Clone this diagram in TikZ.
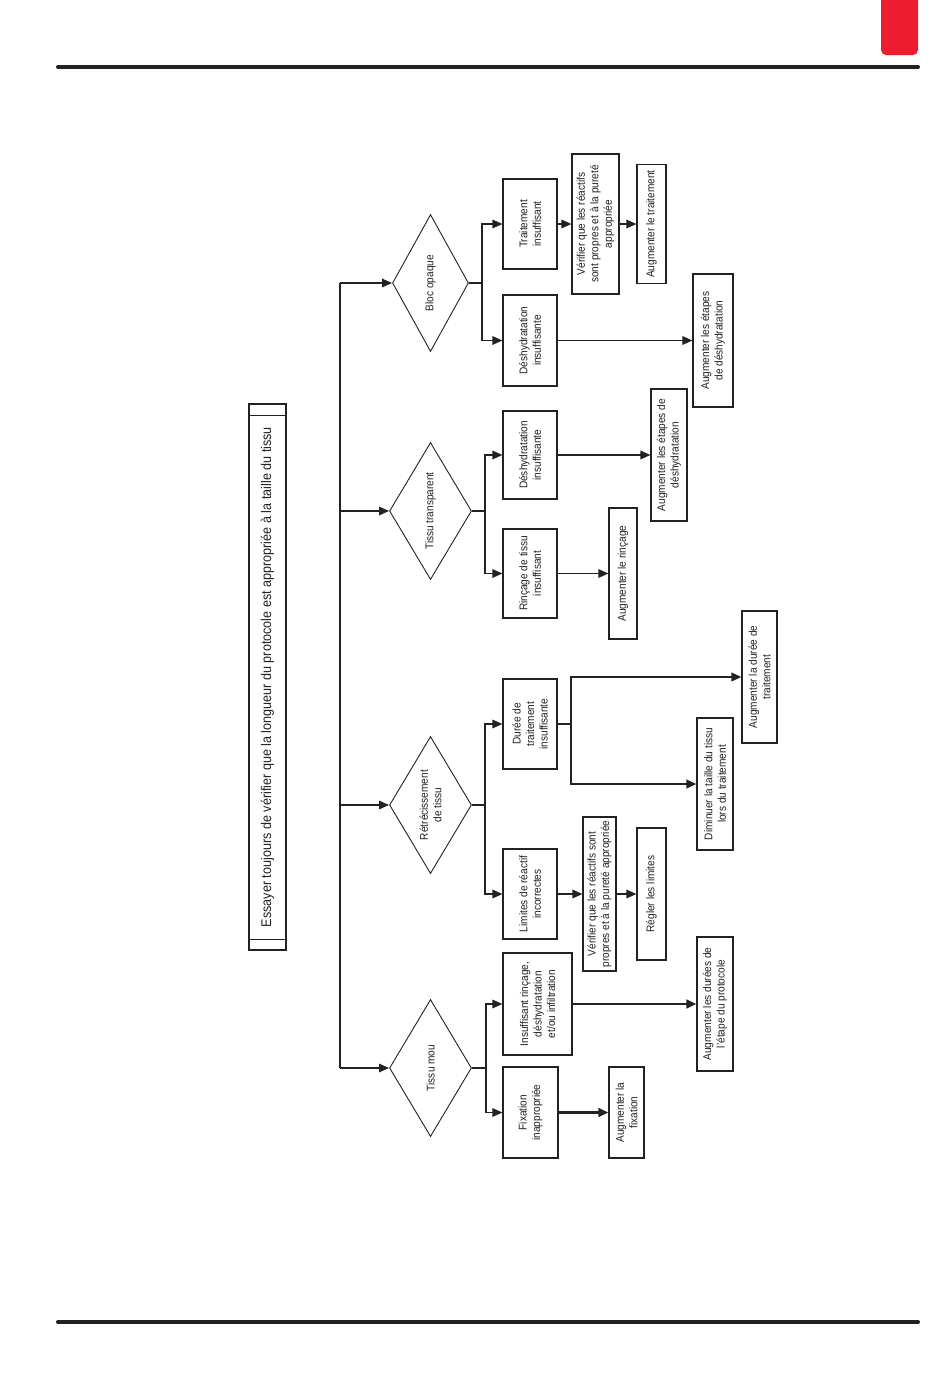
\documentclass[tikz,border=0pt]{standalone}
\usepackage{fontspec}
\setmainfont{Liberation Sans}[FakeStretch=0.9]
\usetikzlibrary{shapes.geometric,arrows.meta}
\definecolor{tabred}{HTML}{ED1C2E}
\definecolor{ink}{HTML}{222222}
\begin{document}
\begin{tikzpicture}[x=1pt,y=-1pt,
  boxn/.style={rotate=90,draw=ink,line width=1.1pt,inner sep=1pt,align=center,
    text=ink,font=\fontsize{11.2}{13.5}\selectfont},
  dia/.style={rotate=90,diamond,draw=ink,line width=0.9pt,inner sep=0pt,shape aspect=1.67,
    minimum width=137pt,minimum height=82pt,align=center,text=ink,font=\fontsize{11.2}{13.5}\selectfont},
  conn/.style={draw=ink,line width=1.5pt},
  arr/.style={conn,-{Triangle[length=10pt,width=8.5pt]}},
  thk/.style={line width=2.6pt}]
\fill[white] (0,0) rectangle (950,1387);
\useasboundingbox (0,0) rectangle (950,1387);
% header / footer
\fill[tabred,rounded corners=5pt] (881,-10) rectangle (918,55);
\draw[ink,line width=4pt,line cap=round] (58,67) -- (918,67);
\draw[ink,line width=4pt,line cap=round] (58,1322) -- (918,1322);
% title
\node[boxn,minimum width=546pt,minimum height=37pt,font=\fontsize{14}{16}\selectfont] (title) at (267.5,677)
  {Essayer toujours de vérifier que la longueur du protocole est appropriée à la taille du tissu};
\draw[ink,line width=1pt] (249,415) -- (286,415);
\draw[ink,line width=1pt] (249,939) -- (286,939);
% diamonds
\node[dia,minimum height=76pt] (d1) at (430.5,283) {Bloc opaque};
\node[dia] (d2) at (430.5,511) {Tissu transparent};
\node[dia] (d3) at (430.5,805) {Rétrécissement\\de tissu};
\node[dia] (d4) at (430.5,1068) {Tissu mou};
% Bloc opaque
\node[boxn,minimum width=90pt,minimum height=54pt] (b1) at (530,224) {Traitement\\insuffisant};
\node[boxn,minimum width=91pt,minimum height=54pt] (b2) at (530,340.5) {Déshydratation\\insuffisante};
\node[boxn,minimum width=140pt,minimum height=47pt] (b3) at (595.5,224) {Vérifier que les réactifs\\sont propres et à la pureté\\appropriée};
\node[boxn,minimum width=119pt,minimum height=29pt] (b4) at (651.5,224) {Augmenter le traitement};
\node[boxn,minimum width=133pt,minimum height=40pt] (b5) at (713,340.5) {Augmenter les étapes\\de déshydratation};
% Tissu transparent
\node[boxn,minimum width=88pt,minimum height=54pt] (t1) at (530,455) {Déshydratation\\insuffisante};
\node[boxn,minimum width=89pt,minimum height=54pt] (t2) at (530,573.5) {Rinçage de tissu\\insuffisant};
\node[boxn,minimum width=131pt,minimum height=28pt] (t3) at (623,573.5) {Augmenter le rinçage};
\node[boxn,minimum width=132pt,minimum height=36pt] (t4) at (669,455) {Augmenter les étapes de\\déshydratation};
% Retrecissement
\node[boxn,minimum width=90pt,minimum height=54pt] (r1) at (530,724) {Durée de\\traitement\\insuffisante};
\node[boxn,minimum width=90pt,minimum height=54pt] (r2) at (530,894) {Limites de réactif\\incorrectes};
\node[boxn,minimum width=154pt,minimum height=33pt] (r3) at (599.5,894) {Vérifier que les réactifs sont\\propres et à la pureté appropriée};
\node[boxn,minimum width=132pt,minimum height=29pt] (r4) at (651.5,894) {Régler les limites};
\node[boxn,minimum width=132pt,minimum height=35pt] (r5) at (759.5,677) {Augmenter la durée de\\traitement};
\node[boxn,minimum width=132pt,minimum height=36pt] (r6) at (715,784) {Diminuer la taille du tissu\\lors du traitement};
% Tissu mou
\node[boxn,minimum width=102pt,minimum height=69pt] (m1) at (537.5,1004) {Insuffisant rinçage,\\déshydratation\\et/ou infiltration};
\node[boxn,minimum width=91pt,minimum height=55pt] (m2) at (530.5,1112.5) {Fixation\\inappropriée};
\node[boxn,minimum width=91pt,minimum height=35pt] (m3) at (626.5,1112.5) {Augmenter la\\fixation};
\node[boxn,minimum width=134pt,minimum height=36pt] (m4) at (715,1004) {Augmenter les durées de\\l'étape du protocole};
% trunk
\coordinate (tt) at (340,283);
\coordinate (tb) at (340,1068);
\draw[conn] (tt) -- (tb);
\draw[arr] (tt) -- (d1.north);
\draw[arr] (tt |- d2.north) -- (d2.north);
\draw[arr] (tt |- d3.north) -- (d3.north);
\draw[arr] (tb) -- (d4.north);
% splits
\draw[arr] (d1.south) -- ++(13,0) |- (b1.north);
\draw[arr] (d1.south) -- ++(13,0) |- (b2.north);
\draw[arr] (d2.south) -- ++(13,0) |- (t1.north);
\draw[arr] (d2.south) -- ++(13,0) |- (t2.north);
\draw[arr] (d3.south) -- ++(13,0) |- (r1.north);
\draw[arr] (d3.south) -- ++(13,0) |- (r2.north);
\draw[arr] (d4.south) -- ++(14,0) |- (m1.north);
\draw[arr] (d4.south) -- ++(14,0) |- (m2.north);
% follow-ups
\draw[arr] (b1.south) -- (b3.north);
\draw[arr] (b3.south) -- (b4.north);
\draw[arr] (b2.south) -- (b2.south -| b5.north);
\draw[arr] (t1.south) -- (t1.south -| t4.north);
\draw[arr] (t2.south) -- (t2.south -| t3.north);
\draw[arr] (r2.south) -- (r3.north);
\draw[arr] (r3.south) -- (r4.north);
\draw[conn,line width=2pt] (r1.south) -- ++(13,0) coordinate (rj);
\draw[arr,line width=2pt] (rj) |- (r5.north);
\draw[arr,line width=2pt] (rj) |- (r6.north);
\draw[arr,thk] (m1.south) -- (m1.south -| m4.north);
\draw[arr,thk] (m2.south) -- (m2.south -| m3.north);
\end{tikzpicture}
\end{document}
